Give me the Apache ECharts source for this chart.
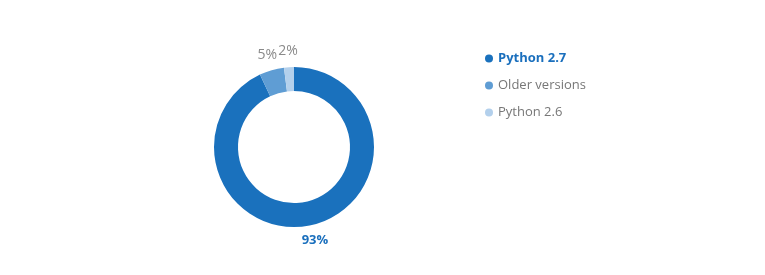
<!DOCTYPE html>
<html><head><meta charset="utf-8">
<script src="https://cdn.jsdelivr.net/npm/echarts@6/dist/echarts.min.js"></script>
<style>html,body{margin:0;padding:0;background:#fff}#c{width:765px;height:275px}</style>
</head><body><div id="c"></div>
<script>
const categories = ["Python 2.7", "Older versions", "Python 2.6"];
const values = [93, 5, 2];
const colors = ["#1a71bd", "#5f9dd4", "#b3d0ec"];
const labelColors = ["#1a6fbd", "#8a8a8a", "#8a8a8a"];

const chart = echarts.init(document.getElementById('c'));
chart.setOption({
  animation: false,
  legend: {
    orient: 'vertical', left: 480, top: 47,
    icon: 'circle', itemWidth: 8, itemHeight: 8, itemGap: 14,
    textStyle: { fontFamily: 'Open Sans', fontSize: 13, color: '#777' },
    data: categories.map((c, i) => i === 0
      ? { name: c, textStyle: { color: '#1a6fbd', fontWeight: 'bold' } }
      : { name: c })
  },
  series: [{
    type: 'pie',
    center: [294, 147],
    radius: [56, 80],
    startAngle: 90,
    clockwise: true,
    label: { show: false },
    labelLine: { show: false },
    data: categories.map((c, i) => ({
      name: c, value: values[i],
      itemStyle: { color: colors[i] }
    }))
  }, {
    type: 'pie',
    silent: true,
    center: [294, 147],
    radius: [85, 101],
    startAngle: 90,
    clockwise: true,
    label: {
      position: 'inside', fontFamily: 'Open Sans', fontSize: 13,
      formatter: '{c}%'
    },
    labelLine: { show: false },
    data: categories.map((c, i) => ({
      name: c, value: values[i],
      itemStyle: { color: 'rgba(0,0,0,0)' },
      label: { color: labelColors[i], fontWeight: i === 0 ? 'bold' : 'normal', fontSize: i === 0 ? 13 : 14 }
    }))
  }]
});
</script></body></html>
